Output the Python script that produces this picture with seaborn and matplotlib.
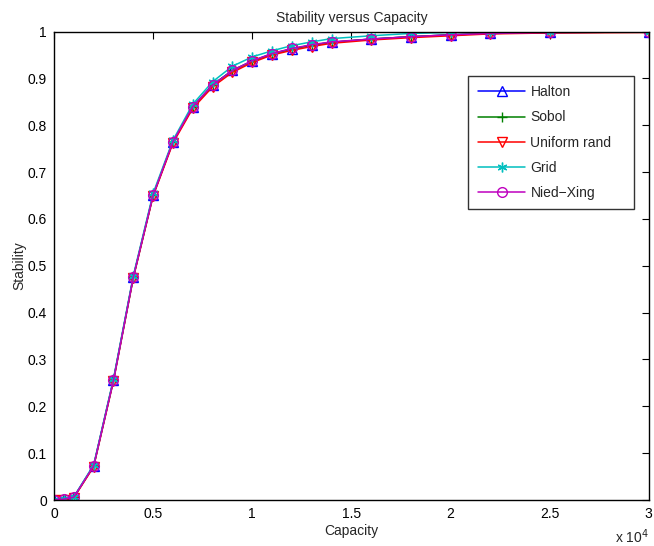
import numpy as np
import pandas as pd
import matplotlib
matplotlib.use("Agg")
import matplotlib.pyplot as plt
from matplotlib.ticker import FuncFormatter, MultipleLocator
import seaborn as sns

capacity = [0, 500, 1000, 2000, 3000, 4000, 5000, 6000, 7000, 8000, 9000,
            10000, 11000, 12000, 13000, 14000, 16000, 18000, 20000, 22000,
            25000, 30000]

halton = [0.000, 0.002, 0.006, 0.073, 0.256, 0.476, 0.651, 0.765, 0.839,
          0.886, 0.917, 0.937, 0.953, 0.963, 0.971, 0.977, 0.984, 0.989,
          0.993, 0.996, 0.998, 0.999]
sobol = [0.000, 0.002, 0.006, 0.073, 0.257, 0.476, 0.651, 0.765, 0.839,
         0.886, 0.917, 0.937, 0.952, 0.963, 0.971, 0.977, 0.984, 0.989,
         0.993, 0.996, 0.998, 0.999]
uniform_rand = [0.000, 0.001, 0.005, 0.071, 0.254, 0.474, 0.649, 0.762,
                0.836, 0.882, 0.913, 0.934, 0.950, 0.960, 0.968, 0.975,
                0.982, 0.987, 0.991, 0.995, 0.997, 0.998]
grid = [0.000, 0.002, 0.007, 0.075, 0.259, 0.479, 0.655, 0.768, 0.845,
        0.893, 0.926, 0.946, 0.959, 0.970, 0.978, 0.985, 0.991, 0.996,
        0.998, 0.999, 1.000, 1.000]
nied_xing = [0.000, 0.002, 0.006, 0.073, 0.256, 0.476, 0.651, 0.765, 0.840,
             0.886, 0.917, 0.938, 0.953, 0.964, 0.972, 0.978, 0.984, 0.989,
             0.993, 0.996, 0.998, 0.999]

series = {
    "Halton": halton,
    "Sobol": sobol,
    "Uniform rand": uniform_rand,
    "Grid": grid,
    "Nied\u2212Xing": nied_xing,
}
colors = {
    "Halton": "#0000ff",
    "Sobol": "#008000",
    "Uniform rand": "#ff0000",
    "Grid": "#00bfbf",
    "Nied\u2212Xing": "#bf00bf",
}
markers = {
    "Halton": "^",
    "Sobol": "+",
    "Uniform rand": "v",
    "Grid": (6, 2, 0),
    "Nied\u2212Xing": "o",
}

sns.set_theme(style="white")
plt.rcParams["font.family"] = ["Liberation Sans", "DejaVu Sans"]
plt.rcParams["font.size"] = 10

fig = plt.figure(figsize=(6.54, 5.46), dpi=100)
ax = fig.add_axes([0.0826, 0.0842, 0.9094, 0.858])

for name, vals in series.items():
    df = pd.DataFrame({"Capacity": capacity, "Stability": vals})
    c = colors[name]
    m = markers[name]
    open_marker = m in ("^", "v", "o")
    sns.lineplot(data=df, x="Capacity", y="Stability", ax=ax, color=c,
                 marker=m, markersize=7,
                 markerfacecolor="none" if open_marker else c,
                 markeredgecolor=c, markeredgewidth=1.0,
                 linewidth=1.1, label=name)

ax.set_xlim(0, 30000)
ax.set_ylim(0, 1)
ax.xaxis.set_major_locator(MultipleLocator(5000))
ax.yaxis.set_major_locator(MultipleLocator(0.1))
ax.xaxis.set_major_formatter(FuncFormatter(lambda v, p: f"{v / 1e4:g}"))
ax.yaxis.set_major_formatter(FuncFormatter(lambda v, p: f"{v:g}"))
ax.tick_params(direction="in", length=5, width=0.8, top=True, right=True,
               labelsize=10, colors="black", pad=5)
for s in ax.spines.values():
    s.set_visible(True)
    s.set_color("black")
    s.set_linewidth(1.0)

ax.set_title("Stability versus Capacity", fontsize=10, pad=7)
ax.set_xlabel("Capacity", fontsize=10, labelpad=2)
ax.set_ylabel("Stability", fontsize=10, labelpad=1)
ax.text(1.0, -0.078, r"x 10$^4$", transform=ax.transAxes, ha="right",
        va="center", fontsize=10)

leg = ax.legend(loc="upper left", bbox_to_anchor=(0.6958, 0.0, 0.279, 0.906),
                mode="expand", frameon=True, fancybox=False,
                handlelength=3.45, handletextpad=0.36, borderpad=0.7,
                labelspacing=0.8, borderaxespad=0, fontsize=10)
leg.get_frame().set_edgecolor("black")
leg.get_frame().set_linewidth(1.0)

fig.savefig("out.png", dpi=100, facecolor="white")
